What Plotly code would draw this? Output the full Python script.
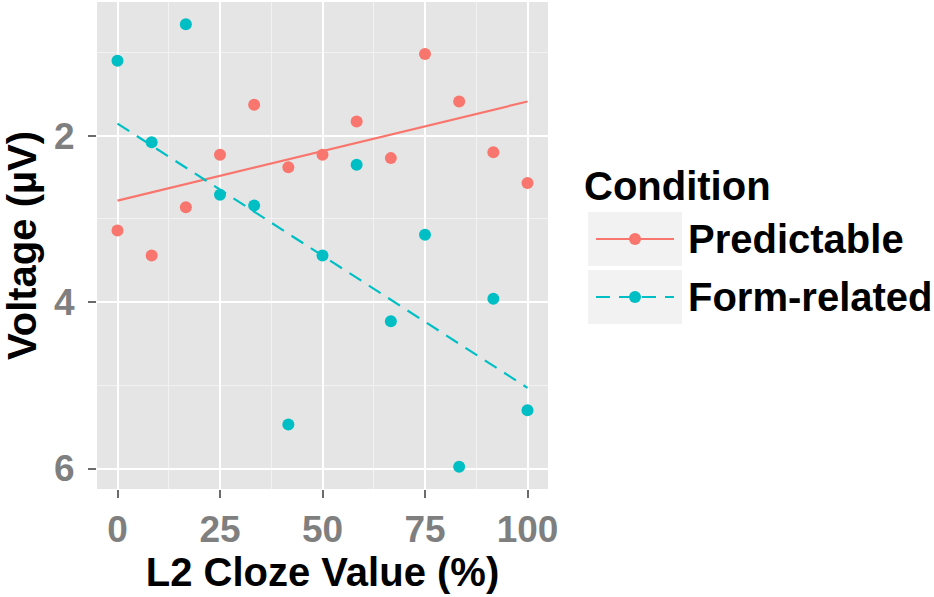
import numpy as np
import plotly.graph_objects as go

# L2 cloze value bins (%)
cloze = [0, 8.33, 16.67, 25, 33.33, 41.67, 50, 58.33, 66.67, 75, 83.33, 91.67, 100]

# Mean voltage per bin (µV)
predictable = [3.14, 3.44, 2.86, 2.23, 1.63, 2.38, 2.23, 1.83, 2.27, 1.02, 1.59, 2.20, 2.57]
form_related = [1.10, 2.08, 0.66, 2.71, 2.84, 5.47, 3.44, 2.35, 4.23, 3.19, 5.98, 3.96, 5.30]

# Linear fit per condition: (intercept, slope)
fit_predictable = (2.78, -0.0119)
fit_form_related = (1.855, 0.03175)

conditions = ["Predictable", "Form-related"]
colors = ["#F8766D", "#00BFC4"]
dashes = ["solid", "14px,9px"]

x_ticks = [0, 25, 50, 75, 100]
y_ticks = [2, 4, 6]

FONT = "Liberation Sans, Arial, Helvetica, sans-serif"
TITLE_FONT = dict(family=FONT, size=40, color="black", weight="bold")
POINT_SIZE = 12

# plot area in pixels (used to place the hand-built legend)
W, H = 934, 597
M_L, M_R, M_T, M_B = 97, 386, 2, 108
PW, PH = W - M_L - M_R, H - M_T - M_B


def px_x(px):
    return (px - M_L) / PW


def px_y(py):
    return 1 - (py - M_T) / PH


fig = go.Figure()

series = [predictable, form_related]
fits = [fit_predictable, fit_form_related]
fit_x = np.array([min(cloze), max(cloze)])

for name, vals, fit, col, dash in zip(conditions, series, fits, colors, dashes):
    b0, b1 = fit
    fig.add_trace(go.Scatter(
        x=fit_x, y=b0 + b1 * fit_x, mode="lines",
        line=dict(color=col, width=2.2, dash=dash),
        showlegend=False, hoverinfo="skip"))
    fig.add_trace(go.Scatter(
        x=cloze, y=vals, mode="markers",
        marker=dict(color=col, size=POINT_SIZE),
        showlegend=False, name=name))

y_all = predictable + form_related
y_pad = 0.05 * (max(y_all) - min(y_all))

axis_common = dict(
    showgrid=True, gridcolor="white", gridwidth=2,
    zeroline=False, showline=False,
    ticks="outside", ticklen=8, tickwidth=2, tickcolor="#6b6b6b",
    tickfont=dict(family=FONT, size=37, color="#7F7F7F", weight="bold"),
)

# legend: title, grey key boxes, key line + point, labels
shapes = []
annotations = [dict(
    text="Condition", xref="paper", yref="paper",
    x=px_x(582), y=px_y(186), xanchor="left", yanchor="middle",
    showarrow=False, font=TITLE_FONT)]

key_rows = [239, 297]
for name, col, dash, yc in zip(conditions, colors, dashes, key_rows):
    shapes.append(dict(
        type="rect", xref="paper", yref="paper", layer="below",
        x0=px_x(588), x1=px_x(682), y0=px_y(yc - 27), y1=px_y(yc + 27),
        fillcolor="#F2F2F2", line=dict(width=0)))
    shapes.append(dict(
        type="line", xref="paper", yref="paper",
        x0=px_x(596), x1=px_x(674), y0=px_y(yc), y1=px_y(yc),
        line=dict(color=col, width=2.2, dash=dash)))
    shapes.append(dict(
        type="circle", xref="paper", yref="paper",
        xsizemode="pixel", ysizemode="pixel",
        xanchor=px_x(635), yanchor=px_y(yc),
        x0=-POINT_SIZE / 2, x1=POINT_SIZE / 2,
        y0=-POINT_SIZE / 2, y1=POINT_SIZE / 2,
        fillcolor=col, line=dict(width=0)))
    annotations.append(dict(
        text=name, xref="paper", yref="paper",
        x=px_x(686), y=px_y(yc), xanchor="left", yanchor="middle",
        showarrow=False, font=TITLE_FONT))

fig.update_layout(
    width=W, height=H,
    margin=dict(l=M_L, r=M_R, t=M_T, b=M_B),
    paper_bgcolor="white", plot_bgcolor="#E5E5E5",
    showlegend=False,
    xaxis=dict(
        range=[-5, 105], tickvals=x_ticks,
        minor=dict(tickvals=[12.5, 37.5, 62.5, 87.5], showgrid=True,
                   gridcolor="#F2F2F2", gridwidth=1, ticks=""),
        title=dict(text="L2 Cloze Value (%)", standoff=4, font=TITLE_FONT),
        **axis_common),
    yaxis=dict(
        range=[max(y_all) + y_pad, min(y_all) - y_pad], tickvals=y_ticks,
        minor=dict(tickvals=[1, 3, 5], showgrid=True,
                   gridcolor="#F2F2F2", gridwidth=1, ticks=""),
        ticklabelstandoff=6,
        title=dict(text="Voltage (µV)", standoff=8, font=TITLE_FONT),
        **axis_common),
    shapes=shapes,
    annotations=annotations,
)

fig.write_html("out.html")
